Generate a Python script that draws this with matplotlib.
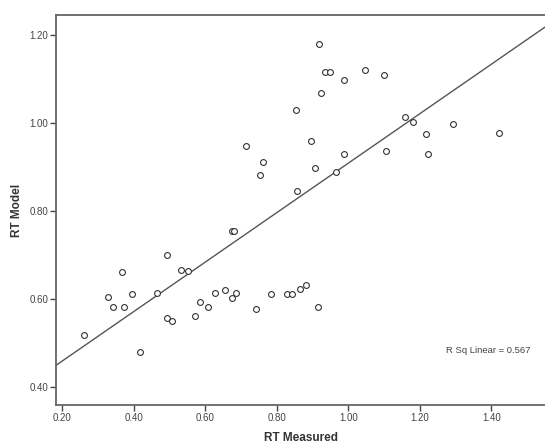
import matplotlib
matplotlib.use("Agg")
import matplotlib.pyplot as plt
import numpy as np

plt.rcParams["font.family"] = ["Liberation Sans", "DejaVu Sans"]

# RT values
rt_measured = [0.261, 0.328, 0.342, 0.372, 0.367, 0.394, 0.419, 0.464, 0.492, 0.494,
               0.508, 0.531, 0.553, 0.572, 0.586, 0.608, 0.628, 0.656, 0.675, 0.686,
               0.675, 0.681, 0.742, 0.714, 0.761, 0.753, 0.783, 0.828, 0.844, 0.864,
               0.883, 0.914, 0.858, 0.853, 0.897, 0.906, 0.917, 0.925, 0.936, 0.950,
               0.967, 0.989, 0.989, 1.047, 1.100, 1.106, 1.158, 1.181, 1.217, 1.222,
               1.294, 1.422]
rt_model = [0.518, 0.605, 0.582, 0.582, 0.661, 0.611, 0.480, 0.614, 0.700, 0.557,
            0.550, 0.666, 0.664, 0.561, 0.593, 0.582, 0.614, 0.620, 0.602, 0.614,
            0.755, 0.755, 0.577, 0.948, 0.911, 0.882, 0.611, 0.611, 0.611, 0.623,
            0.632, 0.582, 0.845, 1.030, 0.959, 0.898, 1.180, 1.068, 1.116, 1.116,
            0.889, 0.930, 1.098, 1.120, 1.109, 0.936, 1.014, 1.002, 0.975, 0.930,
            0.998, 0.977]
r_sq_label = "R Sq Linear = 0.567"

xticks = [0.20, 0.40, 0.60, 0.80, 1.00, 1.20, 1.40]
yticks = [0.40, 0.60, 0.80, 1.00, 1.20]

x = np.array(rt_measured)
y = np.array(rt_model)
slope, intercept = np.polyfit(x, y, 1)

fig = plt.figure(figsize=(5.45, 4.48), dpi=100)
ax = fig.add_axes([0.1028, 0.096, 0.8972, 0.8705])
ax.set_xlim(0.183, 1.55)
ax.set_ylim(0.359, 1.245)

xs = np.array(ax.get_xlim())
ax.plot(xs, slope * xs + intercept, color="#555555", lw=1.0, zorder=2)
ax.plot(x, y, ls="none", marker="o", ms=4.2, mfc="white", mec="#333333",
        mew=0.8, zorder=3)

ax.text(1.274, 0.482, r_sq_label, fontsize=6.8, color="#444444",
        ha="left", va="center")

ax.set_xticks(xticks)
ax.set_yticks(yticks)
ax.set_xticklabels([f"{t:.2f}" for t in xticks])
ax.set_yticklabels([f"{t:.2f}" for t in yticks])
ax.tick_params(direction="out", length=4, width=1, colors="#444444",
               labelsize=7, pad=1.5)

for s in ax.spines.values():
    s.set_color("#666666")
    s.set_linewidth(1.3)
ax.spines["right"].set_visible(False)

ax.set_xlabel("RT Measured", fontsize=8.5, fontweight="bold", color="#333333",
              labelpad=7)
ax.set_ylabel("RT Model", fontsize=8.5, fontweight="bold", color="#333333",
              labelpad=5)

fig.savefig("out.png", dpi=100)
